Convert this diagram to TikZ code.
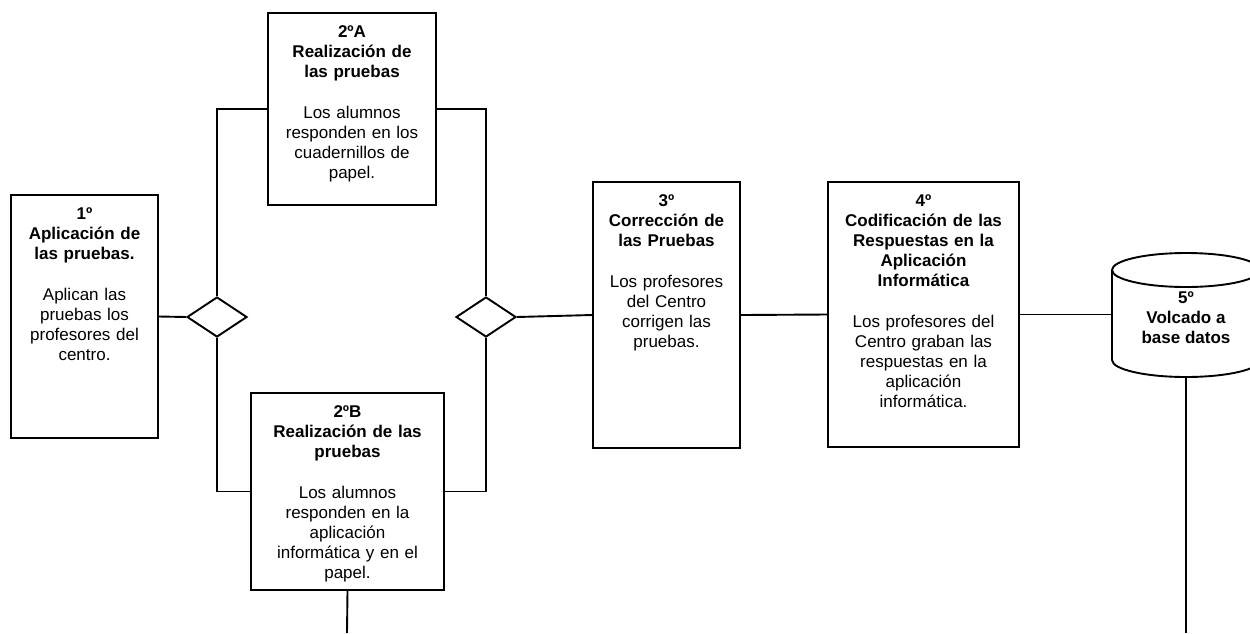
\documentclass[tikz,border=0pt]{standalone}
\usepackage{fontspec}
\setmainfont{Liberation Sans}
\usetikzlibrary{shapes.geometric}

\begin{document}
\begin{tikzpicture}[x=1pt,y=-1pt,line width=1.9pt,
  caja/.style={draw,inner sep=0pt},
  rombo/.style={draw,diamond,minimum width=60pt,minimum height=40pt,inner sep=0pt},
  texto/.style={align=center,inner sep=0pt,font=\fontsize{17}{20}\selectfont}]
  \useasboundingbox (0,0) rectangle (1250,633);
  \foreach \n/\x/\y/\w/\h/\t in {
    p1/11/195/147/243/{\textbf{1º\\Aplicación de\\las pruebas.}\\[21pt]Aplican las\\pruebas los\\profesores del\\centro.},
    p2a/268/13/168/192/{\textbf{2ºA\\Realización de\\las pruebas}\\[21pt]Los alumnos\\responden en los\\cuadernillos de\\papel.},
    p2b/251/393/193/197/{\textbf{2ºB\\Realización de las\\pruebas}\\[21pt]Los alumnos\\responden en la\\aplicación\\informática y en el\\papel.},
    p3/593/182/147/266/{\textbf{3º\\Corrección de\\las Pruebas}\\[21pt]Los profesores\\del Centro\\corrigen las\\pruebas.},
    p4/828/182/191/265/{\textbf{4º\\Codificación de las\\Respuestas en la\\Aplicación\\Informática}\\[21pt]Los profesores del\\Centro graban las\\respuestas en la\\aplicación\\informática.}}
  {
    \node[caja,minimum width=\w,minimum height=\h] (\n) at (\x+\w/2,\y+\h/2) {};
    \node[texto,text width=\w pt,anchor=north] at ([yshift=-13pt]\n.north) {\t};
  }
  \node[rombo] (d1) at (217,317) {};
  \node[rombo] (d2) at (486,317) {};
  \coordinate (c5) at (1186,270);
  \coordinate (e5) at (1112,315);
  \coordinate (s5) at (1186,377);
  \draw (1112,270) -- (1112,360) arc[start angle=180,end angle=0,x radius=74,y radius=17] -- (1260,270);
  \draw (c5) ellipse [x radius=74,y radius=17];
  \node[texto,font=\fontsize{17}{20}\selectfont\bfseries] (p5) at (1186,318) {5º\\Volcado a\\base datos};
  \coordinate (f2b) at (347,633);
  \coordinate (f5) at (1186,633);
  \draw (p1.east) -- (d1.west);
  \draw (d1.north) |- (p2a.west);
  \draw (d1.south) |- (p2b.west);
  \draw (p2a.east) -| (d2.north);
  \draw (p2b.east) -| (d2.south);
  \draw (d2.east) -- (p3.west);
  \draw (p3.east) -- (p4.west);
  \draw (p4.east) -- (p4.east -| e5);
  \draw (p2b.south) -- (f2b);
  \draw (s5) -- (f5);
\end{tikzpicture}
\end{document}
